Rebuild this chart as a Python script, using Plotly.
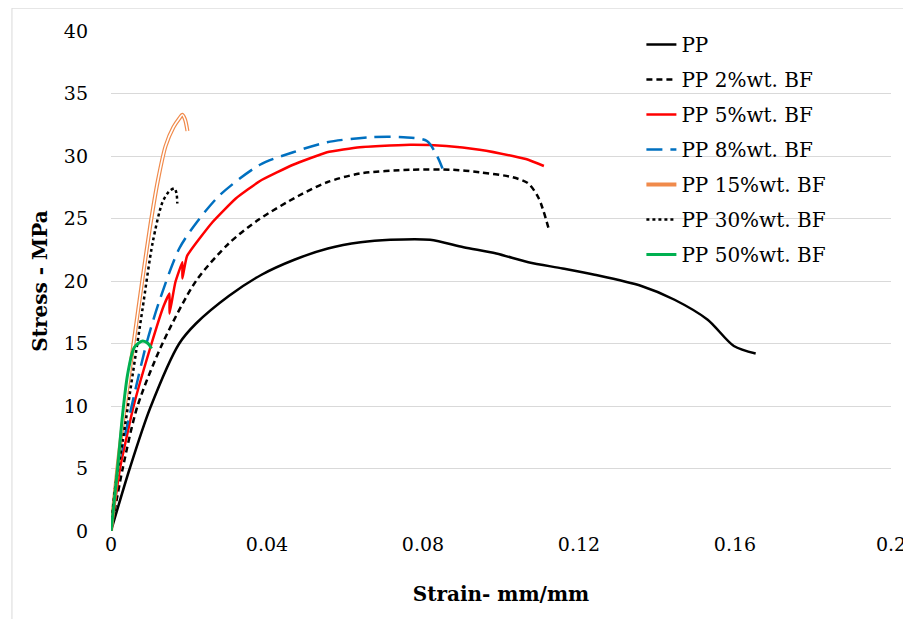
import plotly.graph_objects as go

# ---- data (strain mm/mm, stress MPa) ----
pp_x = [0, 0.0048, 0.0100, 0.0175, 0.0218, 0.0302, 0.0386, 0.047, 0.0556, 0.064, 0.0716, 0.0818,
        0.0904, 0.0988, 0.107, 0.1158, 0.124, 0.136, 0.1445, 0.153, 0.1597, 0.1653]
pp_y = [0, 5, 9.8, 15, 16.6, 18.8, 20.5, 21.7, 22.6, 23.1, 23.3, 23.3,
        22.7, 22.2, 21.5, 21.0, 20.5, 19.6, 18.5, 16.9, 14.8, 14.2]

pp2_x = [0, 0.003, 0.0068, 0.0132, 0.0218, 0.0302, 0.0378, 0.048, 0.0554, 0.0638, 0.0767, 0.0875,
         0.0945, 0.103, 0.107, 0.1097, 0.1123]
pp2_y = [0, 5, 10, 15, 20, 23.0, 24.9, 26.8, 27.9, 28.6, 28.9, 28.9,
         28.7, 28.3, 27.8, 26.6, 24.1]

pp5_x = [0, 0.0023, 0.0058, 0.0104, 0.0135, 0.015, 0.015, 0.0165, 0.0183, 0.0183, 0.0195, 0.026,
         0.032, 0.0382, 0.0467, 0.0554, 0.0638, 0.0767, 0.086, 0.0945, 0.103, 0.107, 0.111]
pp5_y = [0, 5, 10, 15, 18.0, 19.0, 17.4, 19.9, 21.5, 20.2, 22.0, 24.7,
         26.6, 28.0, 29.3, 30.3, 30.7, 30.9, 30.8, 30.5, 30.0, 29.7, 29.2]

pp8_x = [0, 0.0018, 0.0053, 0.0091, 0.0124, 0.0175, 0.022, 0.028, 0.0382, 0.0467, 0.0554, 0.0664,
         0.075, 0.081, 0.0836, 0.085]
pp8_y = [0, 5, 10, 15, 18.4, 22.6, 24.7, 26.9, 29.3, 30.3, 31.1, 31.5,
         31.5, 31.2, 30.0, 29.0]

pp15_x = [0, 0.002, 0.004, 0.006, 0.008, 0.010, 0.012, 0.014, 0.016, 0.0175, 0.0183, 0.019, 0.0196]
pp15_y = [0, 6, 11, 15.5, 20, 24.3, 28, 30.8, 32.3, 33.0, 33.3, 32.9, 32.0]

pp30_x = [0, 0.001, 0.003, 0.0056, 0.0081, 0.0107, 0.0132, 0.015, 0.0163, 0.0168, 0.017]
pp30_y = [0, 3.3, 7.2, 12.6, 17.8, 23.1, 26.3, 27.2, 27.4, 27.0, 26.2]

pp50_x = [0, 0.0005, 0.0018, 0.003, 0.0043, 0.006, 0.0081, 0.0095, 0.0104]
pp50_y = [0, 1.4, 5.4, 9.4, 12.6, 14.7, 15.2, 15.0, 14.6]

x_ticks = [0, 0.04, 0.08, 0.12, 0.16, 0.2]
x_tick_labels = ["0", "0.04", "0.08", "0.12", "0.16", "0.2"]
y_ticks = [0, 5, 10, 15, 20, 25, 30, 35, 40]

SERIF = "DejaVu Serif"

fig = go.Figure()

def add(x, y, name, color, width, dash="solid", group=None, show=True, smooth=0.8):
    fig.add_trace(go.Scatter(
        x=x, y=y, mode="lines", name=name,
        line=dict(color=color, width=width, dash=dash, shape="spline", smoothing=smooth),
        legendgroup=group or name, showlegend=show, hoverinfo="skip"))

add(pp_x, pp_y, "PP", "#000000", 2.5)
add(pp2_x, pp2_y, "PP 2%wt. BF", "#000000", 2.5, "6px,4px")
add(pp5_x, pp5_y, "PP 5%wt. BF", "#ff0000", 2.5, smooth=0.4)
add(pp8_x, pp8_y, "PP 8%wt. BF", "#0070c0", 2.5, "16px,8px")
add(pp15_x, pp15_y, "PP 15%wt. BF", "#f08a4b", 4)
add(pp15_x, pp15_y, "PP 15%wt. BF", "#ffffff", 1.6, group="PP 15%wt. BF", show=False)
add(pp30_x, pp30_y, "PP 30%wt. BF", "#000000", 2.5, "dot")
add(pp50_x, pp50_y, "PP 50%wt. BF", "#00b050", 3)

# outer frame of the chart area
fig.add_shape(type="rect", xref="paper", yref="paper",
              x0=-0.127, x1=1.06, y0=-0.25, y1=1.0457,
              line=dict(color="#d9d9d9", width=1), fillcolor="rgba(0,0,0,0)", layer="below")

fig.update_layout(
    width=911, height=619,
    margin=dict(l=103, r=28, t=20, b=96),
    plot_bgcolor="white", paper_bgcolor="white",
    font=dict(family=SERIF, size=19, color="#000000"),
    showlegend=True,
    legend=dict(x=0.68, y=1.012, xanchor="left", yanchor="top",
                bgcolor="rgba(0,0,0,0)", font=dict(family=SERIF, size=20),
                tracegroupgap=6, traceorder="grouped"),
    xaxis=dict(range=[0, 0.2], tickvals=x_ticks, ticktext=x_tick_labels,
               showgrid=False, zeroline=False, showline=False, ticks="",
               tickfont=dict(family=SERIF, size=19),
               title=dict(text="<b>Strain- mm/mm</b>", font=dict(family=SERIF, size=20), standoff=32)),
    yaxis=dict(range=[0, 40], tickvals=y_ticks, showgrid=True, gridcolor="#d9d9d9", gridwidth=1,
               zeroline=False, showline=False, ticks="", ticklabelstandoff=22,
               tickfont=dict(family=SERIF, size=19),
               title=dict(text="<b>Stress - MPa</b>", font=dict(family=SERIF, size=20), standoff=10)),
)

fig.write_html("out.html")
